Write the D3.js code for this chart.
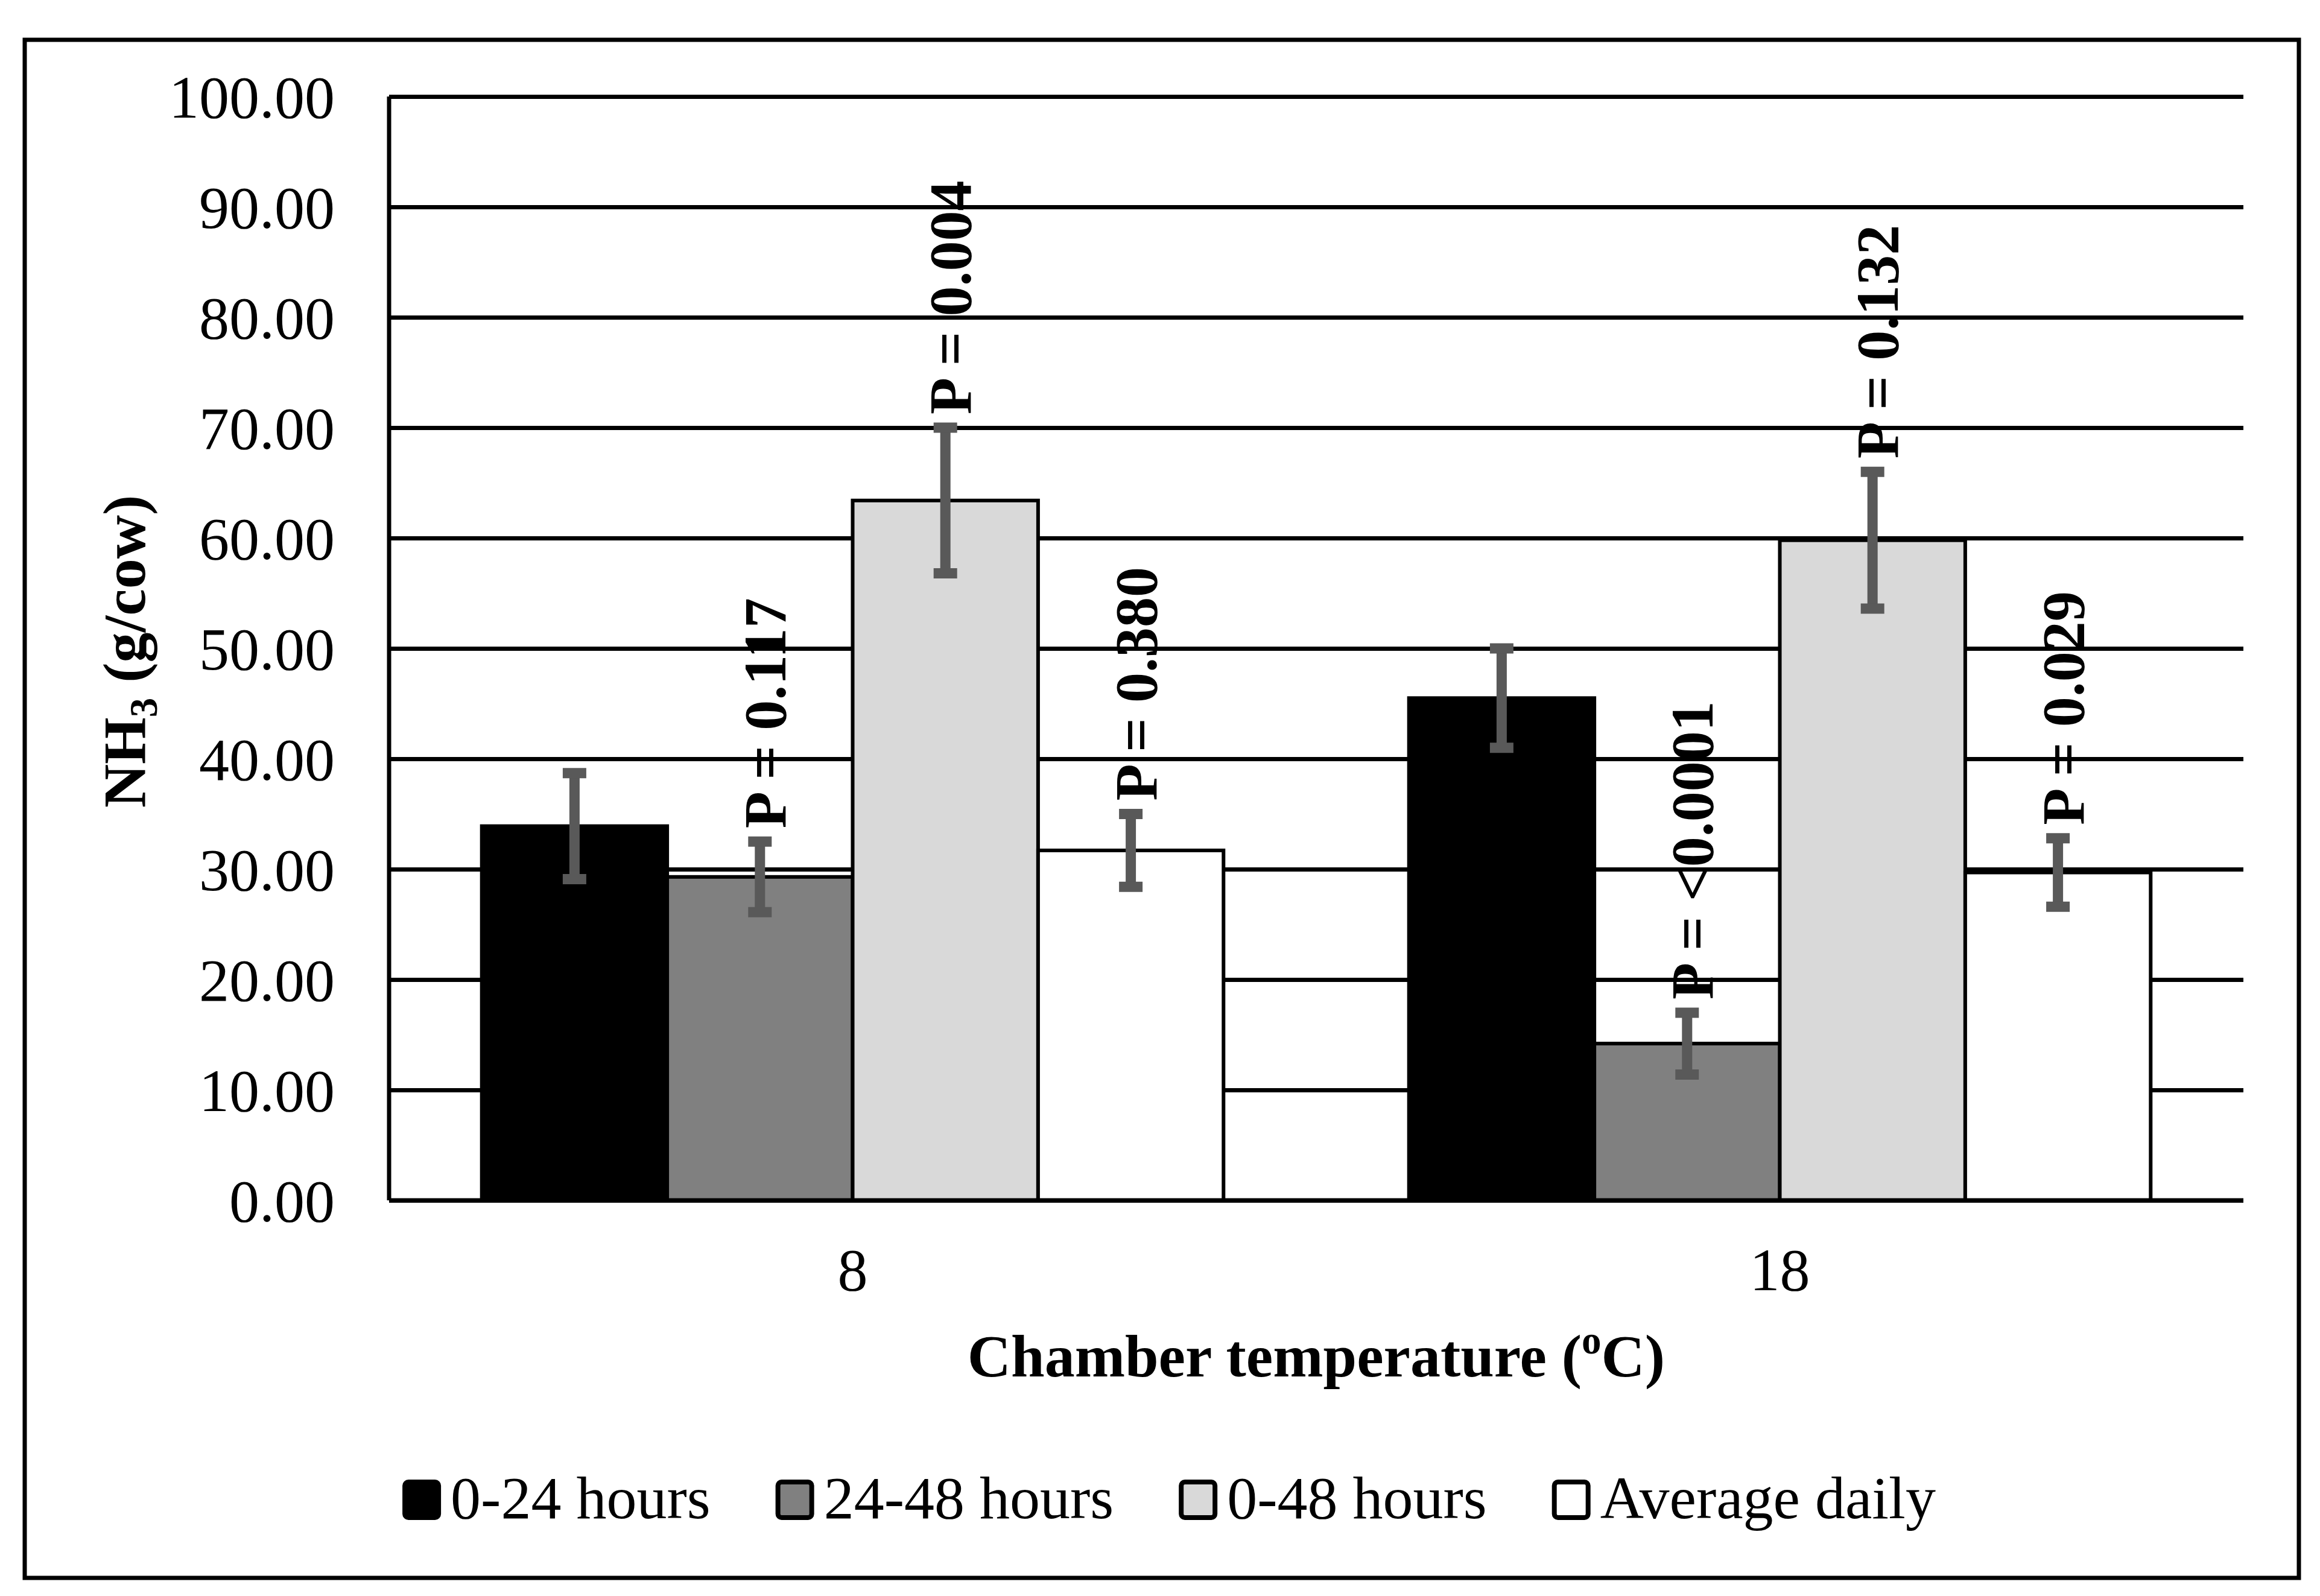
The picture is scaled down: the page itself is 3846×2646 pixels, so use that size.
<!DOCTYPE html>
<html>
<head>
<meta charset="utf-8">
<script src="https://cdn.jsdelivr.net/npm/d3@7"></script>
<style>
  body { margin: 0; background: #fff; }
  svg { display: block; }
  text { font-family: "Liberation Serif", "Times New Roman", serif; fill: #000; }
</style>
</head>
<body>
<svg id="chart"></svg>
<script>
// values (g/cow)
const categories = ['8', '18'];
const series = ['0-24 hours', '24-48 hours', '0-48 hours', 'Average daily'];

const hours0to24 = [33.9, 45.5];
const hours24to48 = [29.3, 14.2];
const hours0to48 = [63.4, 59.8];
const averageDaily = [31.7, 29.7];

const err0to24 = [4.8, 4.5];
const err24to48 = [3.2, 2.8];
const err0to48 = [6.6, 6.2];
const errAverage = [3.3, 3.1];

const p0to24 = [null, null];
const p24to48 = ['P = 0.117', 'P = <0.0001'];
const p0to48 = ['P = 0.004', 'P = 0.132'];
const pAverage = ['P = 0.380', 'P = 0.029'];

const yTicks = [0, 10, 20, 30, 40, 50, 60, 70, 80, 90, 100];

const fills = ['#000000', '#808080', '#d9d9d9', '#ffffff'];

const width = 3846;
const height = 2646;
const margin = { top: 160, right: 127, bottom: 656, left: 645 };
const chartWidth = width - margin.left - margin.right;
const chartHeight = height - margin.top - margin.bottom;

const allValues = [hours0to24, hours24to48, hours0to48, averageDaily];
const allErrors = [err0to24, err24to48, err0to48, errAverage];
const allLabels = [p0to24, p24to48, p0to48, pAverage];

const bars = [];
series.forEach((s, si) => {
  categories.forEach((c, ci) => {
    bars.push({ series: s, si, cat: c, value: allValues[si][ci], err: allErrors[si][ci], label: allLabels[si][ci] });
  });
});

const svg = d3.select('#chart').attr('width', width).attr('height', height);

svg.append('rect')
  .attr('x', 0).attr('y', 0).attr('width', width).attr('height', height)
  .attr('fill', '#fff');

// outer frame
svg.append('rect')
  .attr('x', 41).attr('y', 66)
  .attr('width', 3811 - 41).attr('height', 2616 - 66)
  .attr('fill', 'none').attr('stroke', '#000').attr('stroke-width', 7);

const x0 = d3.scaleBand().domain(categories).range([0, chartWidth]);
const x1 = d3.scaleBand().domain(series).range([0, x0.bandwidth()]).paddingOuter(0.5);
const y = d3.scaleLinear().domain([0, 100]).range([chartHeight, 0]);

const g = svg.append('g').attr('transform', `translate(${margin.left},${margin.top})`);

// y axis with gridlines
const yAxis = g.append('g')
  .call(d3.axisLeft(y).tickValues(yTicks).tickSize(-chartWidth).tickPadding(90).tickFormat(d3.format('.2f')));
yAxis.select('.domain').remove();
yAxis.selectAll('.tick line').attr('stroke', '#000').attr('stroke-width', 7);
yAxis.selectAll('.tick text')
  .attr('dy', '0.34em')
  .style('font-family', '"Liberation Serif", serif')
  .style('font-size', '100px')
  .attr('fill', '#000');

// bars
g.selectAll('.bar')
  .data(bars)
  .enter()
  .append('rect')
  .attr('class', 'bar')
  .attr('x', d => x0(d.cat) + x1(d.series))
  .attr('y', d => y(d.value))
  .attr('width', x1.bandwidth())
  .attr('height', d => chartHeight - y(d.value))
  .attr('fill', d => fills[d.si])
  .attr('stroke', '#000')
  .attr('stroke-width', 6);

// left and bottom axis lines
g.append('line')
  .attr('x1', 0).attr('x2', 0).attr('y1', 0).attr('y2', chartHeight)
  .attr('stroke', '#000').attr('stroke-width', 7);
g.append('line')
  .attr('x1', 0).attr('x2', chartWidth).attr('y1', chartHeight).attr('y2', chartHeight)
  .attr('stroke', '#000').attr('stroke-width', 7);

// error bars
const cx = d => x0(d.cat) + x1(d.series) + x1.bandwidth() / 2;
const errG = g.append('g').attr('stroke', '#595959');
errG.selectAll('.err')
  .data(bars)
  .enter()
  .append('line')
  .attr('x1', cx).attr('x2', cx)
  .attr('y1', d => y(d.value + d.err)).attr('y2', d => y(d.value - d.err))
  .attr('stroke-width', 17);
errG.selectAll('.capTop')
  .data(bars)
  .enter()
  .append('line')
  .attr('x1', d => cx(d) - 19.5).attr('x2', d => cx(d) + 19.5)
  .attr('y1', d => y(d.value + d.err)).attr('y2', d => y(d.value + d.err))
  .attr('stroke-width', 17);
errG.selectAll('.capBottom')
  .data(bars)
  .enter()
  .append('line')
  .attr('x1', d => cx(d) - 19.5).attr('x2', d => cx(d) + 19.5)
  .attr('y1', d => y(d.value - d.err)).attr('y2', d => y(d.value - d.err))
  .attr('stroke-width', 17);

// P value labels
g.selectAll('.plabel')
  .data(bars.filter(d => d.label))
  .enter()
  .append('text')
  .attr('class', 'plabel')
  .attr('transform', d => `translate(${cx(d) + 42},${y(d.value + d.err) - 22}) rotate(-90)`)
  .attr('text-anchor', 'start')
  .style('font-size', '100px')
  .style('font-weight', 'bold')
  .text(d => d.label);

// x axis labels
const xAxis = g.append('g')
  .attr('transform', `translate(0,${chartHeight})`)
  .call(d3.axisBottom(x0).tickSize(0).tickPadding(78));
xAxis.select('.domain').remove();
xAxis.selectAll('.tick text')
  .style('font-family', '"Liberation Serif", serif')
  .style('font-size', '100px')
  .attr('fill', '#000');

// x title
const xTitle = svg.append('text')
  .attr('x', margin.left + chartWidth / 2)
  .attr('y', 2282)
  .attr('text-anchor', 'middle')
  .style('font-size', '100px')
  .style('font-weight', 'bold');
xTitle.append('tspan').text('Chamber temperature (');
xTitle.append('tspan').attr('dy', -38).style('font-size', '65px').text('o');
xTitle.append('tspan').attr('dy', 38).text('C)');

// y title
const yTitle = svg.append('text')
  .attr('transform', `translate(240,${margin.top + chartHeight / 2 + 5}) rotate(-90)`)
  .attr('text-anchor', 'middle')
  .style('font-size', '100px')
  .style('font-weight', 'bold');
yTitle.append('tspan').text('NH');
yTitle.append('tspan').attr('dy', 20).style('font-size', '65px').text('3');
yTitle.append('tspan').attr('dy', -20).text(' (g/cow)');

// legend
const swW = 56, swH = 59, swGap = 20, itemGap = 112;
const legend = svg.append('g');
const items = legend.selectAll('.item')
  .data(series)
  .enter()
  .append('g')
  .attr('class', 'item');
items.append('rect')
  .attr('width', swW).attr('height', swH)
  .attr('rx', 6)
  .attr('fill', (d, i) => fills[i])
  .attr('stroke', '#000').attr('stroke-width', 8);
items.append('text')
  .attr('x', swW + swGap)
  .attr('y', 60)
  .style('font-size', '100px')
  .text(d => d);

let offset = 0;
const widths = [];
items.each(function () {
  const w = swW + swGap + d3.select(this).select('text').node().getComputedTextLength();
  widths.push(w);
});
const total = d3.sum(widths) + itemGap * (widths.length - 1);
const legendStart = 1940 - total / 2;
items.attr('transform', (d, i) => {
  const t = `translate(${legendStart + offset},2457)`;
  offset += widths[i] + itemGap;
  return t;
});
</script>
</body>
</html>
